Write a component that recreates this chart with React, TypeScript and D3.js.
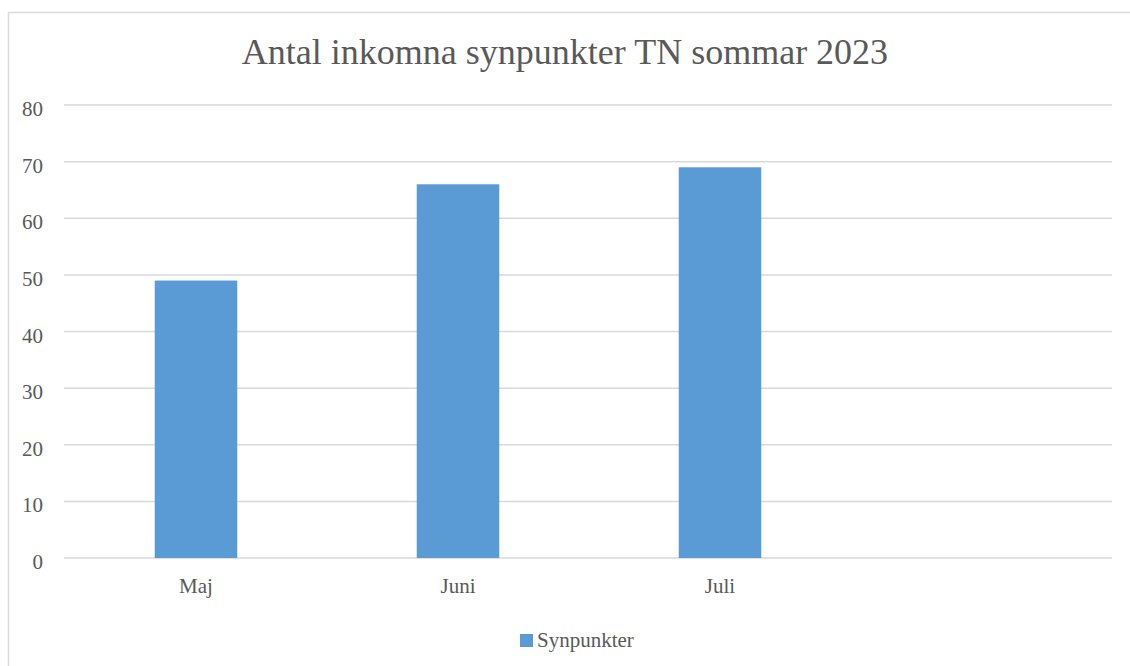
import { useEffect, useRef } from 'react';
import * as d3 from 'd3';

// chart data
const categories = ['Maj', 'Juni', 'Juli', ''];
const synpunkter = [49, 66, 69, null];
const yTicks = [0, 10, 20, 30, 40, 50, 60, 70, 80];
const seriesName = 'Synpunkter';
const title = 'Antal inkomna synpunkter TN sommar 2023';

const W = 1130;
const H = 666;
const FONT = '"Liberation Serif", "Times New Roman", serif';

export default function App() {
  const svgRef = useRef<SVGSVGElement>(null);

  useEffect(() => {
    const svg = d3.select(svgRef.current);
    svg.selectAll('*').remove();

    // chart frame (runs past the right/bottom edge)
    svg.append('rect')
      .attr('x', 8.5)
      .attr('y', 12.5)
      .attr('width', W + 20)
      .attr('height', H + 20)
      .attr('fill', 'white')
      .attr('stroke', '#d9d9d9')
      .attr('stroke-width', 1.5);

    const margin = { left: 64, right: 18, top: 105, bottom: 108 };
    const x = d3.scaleBand()
      .domain(categories.map((c, i) => String(i)))
      .range([margin.left, W - margin.right])
      .paddingInner(0.685)
      .paddingOuter(0.3425);

    const y = d3.scaleLinear()
      .domain([0, 80])
      .range([H - margin.bottom, margin.top]);

    // gridlines
    svg.append('g')
      .selectAll('line')
      .data(yTicks)
      .enter()
      .append('line')
      .attr('x1', margin.left)
      .attr('x2', W - margin.right)
      .attr('y1', d => y(d))
      .attr('y2', d => y(d))
      .attr('stroke', '#d9d9d9')
      .attr('stroke-width', 1.5);

    // y tick labels
    svg.append('g')
      .selectAll('text')
      .data(yTicks)
      .enter()
      .append('text')
      .attr('x', 43)
      .attr('y', d => y(d) + 11)
      .attr('text-anchor', 'end')
      .style('font-family', FONT)
      .style('font-size', '21px')
      .style('fill', '#595959')
      .text(d => d);

    // bars
    svg.append('g')
      .selectAll('rect')
      .data(synpunkter.map((v, i) => ({ v, i })).filter(d => d.v != null))
      .enter()
      .append('rect')
      .attr('x', d => x(String(d.i))! + 1)
      .attr('width', x.bandwidth())
      .attr('y', d => y(d.v as number))
      .attr('height', d => y(0) - y(d.v as number))
      .attr('fill', '#5b9bd5');

    // category labels
    svg.append('g')
      .selectAll('text')
      .data(categories)
      .enter()
      .append('text')
      .attr('x', (d, i) => x(String(i))! + x.bandwidth() / 2 + 1)
      .attr('y', y(0) + 35)
      .attr('text-anchor', 'middle')
      .style('font-family', FONT)
      .style('font-size', '21px')
      .style('fill', '#595959')
      .text(d => d);

    // title
    svg.append('text')
      .attr('x', 565)
      .attr('y', 64)
      .attr('text-anchor', 'middle')
      .style('font-family', FONT)
      .style('font-size', '36px')
      .style('fill', '#595959')
      .text(title);

    // legend
    const legend = svg.append('g').attr('transform', 'translate(520, 634)');
    legend.append('rect')
      .attr('width', 13)
      .attr('height', 13)
      .attr('fill', '#5b9bd5');
    legend.append('text')
      .attr('x', 17)
      .attr('y', 13)
      .style('font-family', FONT)
      .style('font-size', '21px')
      .style('fill', '#595959')
      .text(seriesName);
  }, []);

  return (
    <div style={{ position: 'absolute', left: 0, top: 0 }}>
      <svg ref={svgRef} width={W} height={H} style={{ display: 'block' }} />
    </div>
  );
}
